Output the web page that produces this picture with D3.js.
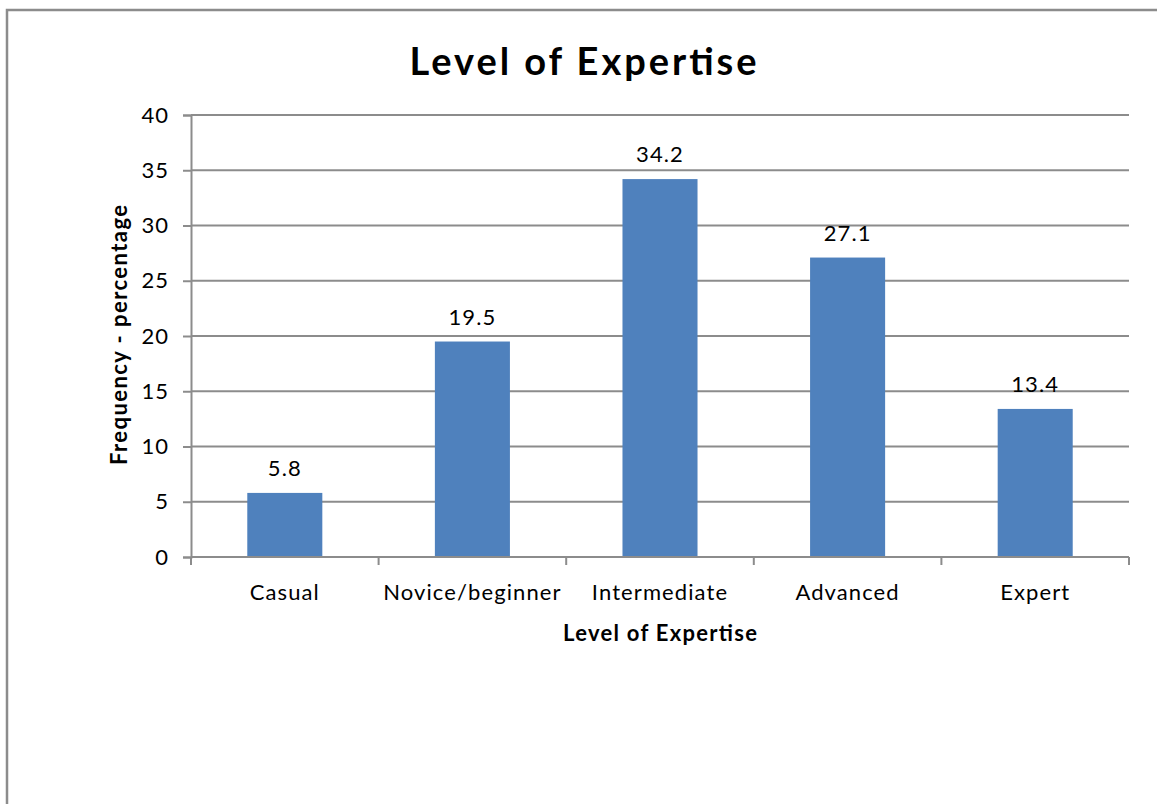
<!DOCTYPE html>
<html>
<head>
<meta charset="utf-8">
<script src="https://cdn.jsdelivr.net/npm/d3@7"></script>
<style>
  html, body { margin: 0; padding: 0; background: #fff; }
  svg { display: block; }
  text { font-family: Lato, "Open Sans", sans-serif; fill: #000; }
</style>
</head>
<body>
<script>
// Chart data
const categories = ["Casual", "Novice/beginner", "Intermediate", "Advanced", "Expert"];
const values = [5.8, 19.5, 34.2, 27.1, 13.4];
const yTicks = [0, 5, 10, 15, 20, 25, 30, 35, 40];

const W = 1157, H = 804;
const plot = { left: 191, right: 1129, top: 115, bottom: 557 };

const svg = d3.select("body").append("svg").attr("width", W).attr("height", H);

// Outer chart frame (top and left edges visible)
svg.append("path")
  .attr("d", `M7,${H} L7,10 L${W},10`)
  .attr("fill", "none").attr("stroke", "#8c8c8c").attr("stroke-width", 2.5);

const x = d3.scaleBand().domain(categories)
  .range([plot.left, plot.right]).paddingInner(0.6).paddingOuter(0.3);
const y = d3.scaleLinear().domain([0, 40]).range([plot.bottom, plot.top]);

const gridColor = "#8c8c8c";

// Horizontal gridlines
svg.append("g").selectAll("line").data(yTicks.filter(d => d > 0)).join("line")
  .attr("x1", plot.left).attr("x2", plot.right)
  .attr("y1", d => y(d)).attr("y2", d => y(d))
  .attr("stroke", gridColor).attr("stroke-width", 2);

// Y axis
const yAxis = svg.append("g").attr("transform", `translate(${plot.left},0)`)
  .call(d3.axisLeft(y).tickValues(yTicks).tickSize(8).tickPadding(14).tickFormat(d3.format("d")));
yAxis.select(".domain").attr("stroke", gridColor).attr("stroke-width", 2);
yAxis.selectAll(".tick line").attr("stroke", gridColor).attr("stroke-width", 2);
yAxis.selectAll(".tick text")
  .attr("font-size", 22).attr("font-family", "Lato, sans-serif")
  .attr("letter-spacing", 1).attr("fill", "#000");

// Bars
svg.append("g").selectAll("rect").data(categories).join("rect")
  .attr("x", d => x(d))
  .attr("width", x.bandwidth())
  .attr("y", (d, i) => y(values[i]))
  .attr("height", (d, i) => y(0) - y(values[i]))
  .attr("fill", "#4f81bd");

// X axis with ticks on category boundaries
const step = x.step();
const boundaries = d3.range(categories.length + 1).map(i => plot.left + i * step);
svg.append("line")
  .attr("x1", plot.left).attr("x2", plot.right)
  .attr("y1", plot.bottom).attr("y2", plot.bottom)
  .attr("stroke", gridColor).attr("stroke-width", 2);
svg.append("g").selectAll("line").data(boundaries).join("line")
  .attr("x1", d => d).attr("x2", d => d)
  .attr("y1", plot.bottom).attr("y2", plot.bottom + 8)
  .attr("stroke", gridColor).attr("stroke-width", 2);

svg.append("g").selectAll("text").data(categories).join("text")
  .attr("x", d => x(d) + x.bandwidth() / 2)
  .attr("y", plot.bottom + 43)
  .attr("text-anchor", "middle").attr("font-size", 22).attr("letter-spacing", 1.1)
  .text(d => d);

// Value labels
svg.append("g").selectAll("text").data(categories).join("text")
  .attr("x", d => x(d) + x.bandwidth() / 2)
  .attr("y", (d, i) => y(values[i]) - 17)
  .attr("text-anchor", "middle").attr("font-size", 22).attr("letter-spacing", 1.1)
  .text((d, i) => values[i].toFixed(1));

// Titles
svg.append("text")
  .attr("x", 583).attr("y", 75)
  .attr("text-anchor", "middle").attr("font-size", 38).attr("font-weight", "bold")
  .attr("textLength", 347).attr("lengthAdjust", "spacing")
  .text("Level of Expertise");

svg.append("text")
  .attr("x", 660).attr("y", 641)
  .attr("text-anchor", "middle").attr("font-size", 22).attr("font-weight", "bold")
  .attr("textLength", 194).attr("lengthAdjust", "spacing")
  .text("Level of Expertise");

svg.append("text")
  .attr("transform", "translate(127,335) rotate(-90)")
  .attr("text-anchor", "middle").attr("font-size", 22).attr("font-weight", "bold")
  .attr("textLength", 260).attr("lengthAdjust", "spacing")
  .text("Frequency - percentage");
</script>
</body>
</html>
